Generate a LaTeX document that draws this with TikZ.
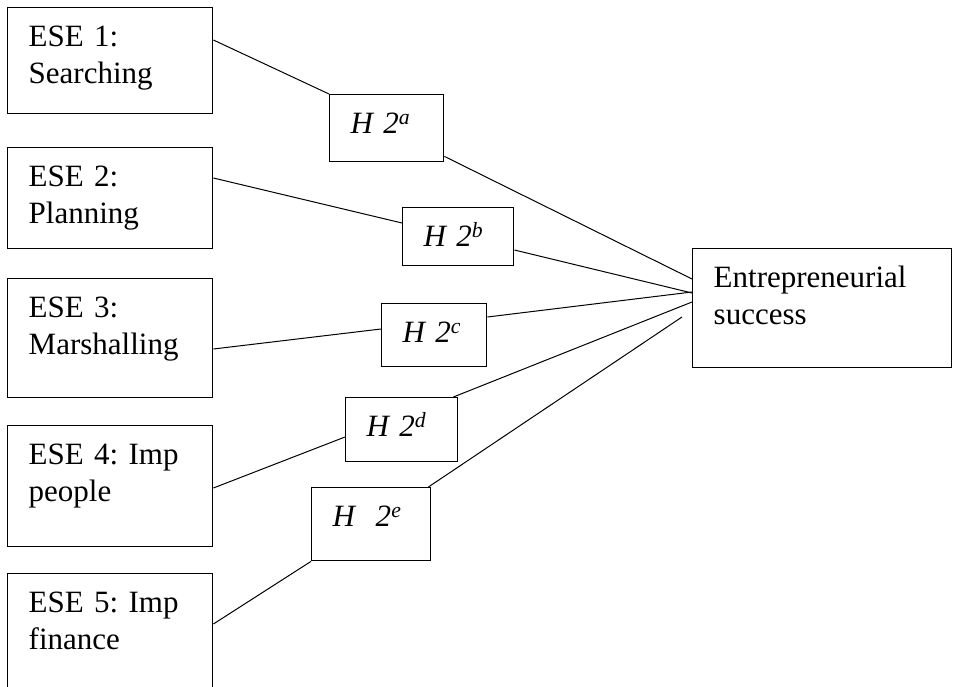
\documentclass[tikz,border=0pt]{standalone}
\usepackage{fontspec}
\setmainfont{Liberation Serif}
\usetikzlibrary{calc}
\tikzset{
  box/.style={draw,line width=1.4pt,anchor=north west,align=left,inner xsep=21pt,inner ysep=18pt,text height=21pt,font=\fontsize{31}{37}\selectfont\frenchspacing},
  link/.style={line width=1pt},
}

\begin{document}
\begin{tikzpicture}[x=1pt,y=-1pt]
  \useasboundingbox (0,0) rectangle (958,687);
  % self-efficacy boxes
  \node[box,text width=163pt,text depth=49pt] (e1) at (7,7) {ESE 1:\\Searching};
  \node[box,text width=163pt,text depth=44pt] (e2) at (7,147) {ESE 2:\\Planning};
  \node[box,text width=163pt,text depth=62pt] (e3) at (7,278) {ESE 3:\\Marshalling};
  \node[box,text width=163pt,text depth=64pt] (e4) at (7,425) {ESE 4: Imp\\people};
  \node[box,text width=163pt,text depth=63pt] (e5) at (7,573) {ESE 5: Imp\\finance};
  % hypotheses
  \node[box,text width=72pt,text depth=10pt] (h2a) at (329,94) {\textit{H 2\textsuperscript{a}}};
  \node[box,text width=69pt,text depth=1pt] (h2b) at (402,207) {\textit{H 2\textsuperscript{b}}};
  \node[box,text width=63pt,text depth=6pt] (h2c) at (381,303) {\textit{H 2\textsuperscript{c}}};
  \node[box,text width=70pt,text depth=7pt] (h2d) at (345,397) {\textit{H 2\textsuperscript{d}}};
  \node[box,text width=77pt,text depth=16pt] (h2e) at (311,487) {\textit{H\ \ 2\textsuperscript{e}}};
  % outcome
  \node[box,text width=217pt,text depth=62pt] (es) at (692,248) {Entrepreneurial\\success};
  % links
  \draw[link] ($(e1.north east)+(0,33)$) -- (h2a.north west);
  \draw[link] ($(h2a.south east)+(0,-6)$) -- ($(es.north west)+(0,31)$);
  \draw[link] ($(e2.north east)+(0,31)$) -- ($(h2b.north west)+(0,16)$);
  \draw[link] ($(h2b.north east)+(0,43)$) -- ($(es.north west)+(0,45)$);
  \draw[link] ($(e3.north east)+(0,71)$) -- ($(h2c.north west)+(0,26)$);
  \draw[link] ($(h2c.north east)+(0,14)$) -- ($(es.north west)+(0,44)$);
  \draw[link] ($(e4.north east)+(0,63)$) -- ($(h2d.north west)+(0,40)$);
  \draw[link] ($(h2d.north east)+(-5,0)$) -- ($(es.north west)+(0,54)$);
  \draw[link] ($(e5.north east)+(0,51)$) -- (h2e.south west);
  \coordinate (eend) at (682,317);
  \draw[link] ($(h2e.north east)+(-3,0)$) -- (eend);
\end{tikzpicture}
\end{document}
